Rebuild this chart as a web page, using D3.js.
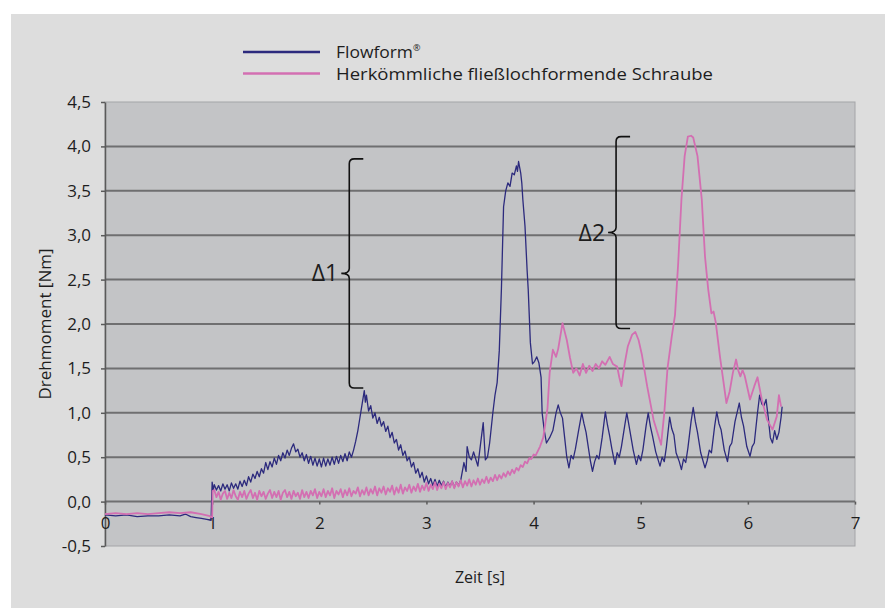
<!DOCTYPE html>
<html>
<head>
<meta charset="utf-8">
<script src="https://cdn.jsdelivr.net/npm/d3@7"></script>
<style>
  html, body { margin: 0; padding: 0; background: #fff; }
  svg text { font-family: "Open Sans", "Noto Sans", sans-serif; fill: #1d1d1d; }
</style>
</head>
<body>
<div class="canvas"></div>
<script>
/////////////////////////////////////////////////
// Data
/////////////////////////////////////////////////

// [time s, torque Nm]
const flowform = [
  [0.00, -0.15], [0.10, -0.16], [0.20, -0.15], [0.30, -0.17], [0.40, -0.16], [0.50, -0.16],
  [0.60, -0.15], [0.70, -0.16], [0.75, -0.14], [0.80, -0.17], [0.85, -0.18], [0.90, -0.19],
  [0.95, -0.20], [0.99, -0.21], [1.00, 0.22], [1.01, 0.13],
  [1.02, 0.19], [1.04, 0.13], [1.06, 0.18], [1.08, 0.12], [1.10, 0.20], [1.12, 0.14], [1.14, 0.19], [1.16, 0.12], [1.18, 0.21], [1.20, 0.15],
  [1.22, 0.20], [1.24, 0.14], [1.26, 0.23], [1.28, 0.17], [1.30, 0.24], [1.32, 0.18], [1.34, 0.28], [1.36, 0.22], [1.38, 0.31], [1.40, 0.26],
  [1.42, 0.34], [1.44, 0.28], [1.46, 0.37], [1.48, 0.32], [1.50, 0.44], [1.52, 0.36], [1.54, 0.45], [1.56, 0.39], [1.58, 0.49], [1.60, 0.42],
  [1.62, 0.52], [1.64, 0.46], [1.66, 0.55], [1.68, 0.49], [1.70, 0.58], [1.72, 0.52], [1.74, 0.60], [1.76, 0.65], [1.78, 0.56], [1.80, 0.59],
  [1.82, 0.50], [1.84, 0.55], [1.86, 0.46], [1.88, 0.53], [1.90, 0.43], [1.92, 0.51], [1.94, 0.41], [1.96, 0.49], [1.98, 0.40], [2.00, 0.48],
  [2.02, 0.39], [2.04, 0.49], [2.06, 0.40], [2.08, 0.48], [2.10, 0.41], [2.12, 0.50], [2.14, 0.42], [2.16, 0.51], [2.18, 0.43], [2.20, 0.52],
  [2.22, 0.45], [2.24, 0.54], [2.26, 0.46], [2.28, 0.56], [2.30, 0.50], [2.32, 0.58],
  [2.34, 0.68], [2.36, 0.80], [2.38, 0.95], [2.40, 1.10], [2.42, 1.25], [2.43, 1.12],
  [2.44, 1.20], [2.46, 1.02], [2.48, 1.08], [2.50, 0.94], [2.52, 1.00], [2.54, 0.88], [2.56, 0.95], [2.58, 0.85], [2.60, 0.90], [2.62, 0.79],
  [2.64, 0.85], [2.66, 0.72], [2.68, 0.78], [2.70, 0.66], [2.72, 0.70], [2.74, 0.58], [2.76, 0.64], [2.78, 0.52], [2.80, 0.57], [2.82, 0.46],
  [2.84, 0.50], [2.86, 0.39], [2.88, 0.44], [2.90, 0.32], [2.92, 0.37], [2.94, 0.27], [2.96, 0.33], [2.98, 0.22], [3.00, 0.29], [3.02, 0.20],
  [3.04, 0.26], [3.06, 0.18], [3.08, 0.25], [3.10, 0.17], [3.12, 0.24], [3.14, 0.18], [3.16, 0.23], [3.18, 0.16], [3.20, 0.22], [3.22, 0.17],
  [3.24, 0.23], [3.26, 0.16], [3.28, 0.22], [3.30, 0.18], [3.32, 0.24],
  [3.35, 0.44], [3.37, 0.34], [3.38, 0.62], [3.40, 0.50], [3.42, 0.47], [3.44, 0.56],
  [3.46, 0.48], [3.48, 0.40], [3.50, 0.60], [3.53, 0.89], [3.55, 0.47], [3.57, 0.50],
  [3.59, 0.66], [3.62, 1.00], [3.64, 1.20], [3.66, 1.34], [3.68, 1.70], [3.70, 2.40],
  [3.72, 3.32], [3.74, 3.50], [3.76, 3.59], [3.78, 3.55], [3.80, 3.70], [3.82, 3.68],
  [3.84, 3.78], [3.85, 3.72], [3.86, 3.83], [3.88, 3.70], [3.89, 3.59], [3.90, 3.40],
  [3.92, 3.10], [3.94, 2.60], [3.95, 2.39], [3.97, 1.79], [3.99, 1.55], [4.01, 1.58],
  [4.03, 1.63], [4.05, 1.56], [4.07, 1.40], [4.08, 1.00], [4.10, 0.80], [4.12, 0.66],
  [4.15, 0.72], [4.18, 0.80], [4.21, 1.00], [4.23, 1.09], [4.25, 1.00], [4.27, 0.94],
  [4.29, 0.72], [4.31, 0.50], [4.33, 0.38], [4.35, 0.52], [4.37, 0.48], [4.39, 0.59],
  [4.42, 0.80], [4.45, 1.00], [4.47, 0.88], [4.49, 0.78], [4.51, 0.62], [4.53, 0.46],
  [4.55, 0.34], [4.57, 0.45], [4.59, 0.52], [4.61, 0.48], [4.64, 0.72], [4.67, 1.01],
  [4.69, 0.86], [4.71, 0.74], [4.73, 0.60], [4.76, 0.42], [4.78, 0.55], [4.80, 0.50],
  [4.82, 0.62], [4.85, 0.85], [4.87, 1.00], [4.89, 0.86], [4.91, 0.72], [4.93, 0.58],
  [4.96, 0.42], [4.98, 0.52], [5.00, 0.46], [5.02, 0.58], [5.05, 0.85], [5.07, 1.00],
  [5.09, 0.85], [5.11, 0.74], [5.14, 0.56], [5.18, 0.40], [5.20, 0.50], [5.22, 0.45],
  [5.24, 0.62], [5.27, 0.95], [5.29, 0.82], [5.31, 0.75], [5.33, 0.55], [5.36, 0.45],
  [5.38, 0.36], [5.40, 0.48], [5.42, 0.44], [5.44, 0.60], [5.47, 0.90], [5.49, 1.06],
  [5.51, 0.90], [5.53, 0.78], [5.56, 0.55], [5.60, 0.38], [5.62, 0.46], [5.64, 0.58],
  [5.66, 0.55], [5.69, 0.85], [5.71, 1.01], [5.73, 0.88], [5.75, 0.81], [5.78, 0.58],
  [5.81, 0.45], [5.83, 0.62], [5.85, 0.66], [5.88, 0.90], [5.92, 1.11], [5.94, 0.95],
  [5.96, 0.85], [5.99, 0.62], [6.02, 0.51], [6.04, 0.62], [6.06, 0.66], [6.09, 1.00],
  [6.11, 1.20], [6.13, 1.10], [6.15, 1.08], [6.17, 1.15], [6.19, 0.95], [6.21, 0.72],
  [6.23, 0.66], [6.25, 0.80], [6.27, 0.70], [6.29, 0.78], [6.31, 0.95], [6.32, 1.07],
];

const conventional = [
  [0.00, -0.14], [0.10, -0.13], [0.20, -0.14], [0.30, -0.13], [0.40, -0.14], [0.50, -0.13],
  [0.60, -0.12], [0.70, -0.13], [0.80, -0.12], [0.90, -0.14], [0.97, -0.16], [1.00, -0.18],
  [1.005, 0.12],
  [1.02, 0.13], [1.04, 0.05], [1.06, 0.11], [1.08, 0.02], [1.10, 0.09], [1.12, 0.12], [1.14, 0.03], [1.16, 0.10], [1.18, 0.04], [1.20, 0.13],
  [1.22, 0.06], [1.24, 0.02], [1.26, 0.11], [1.28, 0.05], [1.30, 0.12], [1.32, 0.03], [1.34, 0.09], [1.36, 0.13], [1.38, 0.04], [1.40, 0.10],
  [1.42, 0.02], [1.44, 0.12], [1.46, 0.06], [1.48, 0.11], [1.50, 0.03], [1.52, 0.09], [1.54, 0.13], [1.56, 0.04], [1.58, 0.11], [1.60, 0.05],
  [1.62, 0.12], [1.64, 0.02], [1.66, 0.10], [1.68, 0.13], [1.70, 0.05], [1.72, 0.11], [1.74, 0.03], [1.76, 0.12], [1.78, 0.06], [1.80, 0.10],
  [1.82, 0.03], [1.84, 0.13], [1.86, 0.05], [1.88, 0.11], [1.90, 0.04], [1.92, 0.12], [1.94, 0.07], [1.96, 0.14], [1.98, 0.04], [2.00, 0.11],
  [2.02, 0.06], [2.04, 0.14], [2.06, 0.05], [2.08, 0.12], [2.10, 0.07], [2.12, 0.15], [2.14, 0.04], [2.16, 0.12], [2.18, 0.08], [2.20, 0.14],
  [2.22, 0.05], [2.24, 0.13], [2.26, 0.07], [2.28, 0.15], [2.30, 0.06], [2.32, 0.12], [2.34, 0.09], [2.36, 0.16], [2.38, 0.06], [2.40, 0.13],
  [2.42, 0.08], [2.44, 0.16], [2.46, 0.07], [2.48, 0.14], [2.50, 0.09], [2.52, 0.17], [2.54, 0.07], [2.56, 0.15], [2.58, 0.10], [2.60, 0.17],
  [2.62, 0.08], [2.64, 0.15], [2.66, 0.11], [2.68, 0.18], [2.70, 0.08], [2.72, 0.16], [2.74, 0.10], [2.76, 0.19], [2.78, 0.09], [2.80, 0.16],
  [2.82, 0.12], [2.84, 0.19], [2.86, 0.10], [2.88, 0.17], [2.90, 0.12], [2.92, 0.20], [2.94, 0.11], [2.96, 0.18], [2.98, 0.13], [3.00, 0.21],
  [3.02, 0.12], [3.04, 0.19], [3.06, 0.14], [3.08, 0.22], [3.10, 0.13], [3.12, 0.20], [3.14, 0.15], [3.16, 0.22], [3.18, 0.14], [3.20, 0.21],
  [3.22, 0.16], [3.24, 0.23], [3.26, 0.15], [3.28, 0.22], [3.30, 0.17], [3.32, 0.24], [3.34, 0.16], [3.36, 0.23], [3.38, 0.18], [3.40, 0.25],
  [3.42, 0.17], [3.44, 0.24], [3.46, 0.19], [3.48, 0.26], [3.50, 0.19], [3.52, 0.25], [3.54, 0.21], [3.56, 0.28], [3.58, 0.21], [3.60, 0.27],
  [3.62, 0.23], [3.64, 0.30], [3.66, 0.24], [3.68, 0.30], [3.70, 0.26], [3.72, 0.32], [3.74, 0.28], [3.76, 0.34], [3.78, 0.30], [3.80, 0.36],
  [3.82, 0.32], [3.84, 0.38], [3.86, 0.35], [3.88, 0.41], [3.90, 0.39], [3.92, 0.45], [3.94, 0.43], [3.96, 0.49], [3.98, 0.48], [4.00, 0.53],
  [4.02, 0.52], [4.06, 0.62], [4.09, 0.72],
  [4.11, 0.88], [4.13, 1.05], [4.15, 1.45], [4.18, 1.71], [4.21, 1.63], [4.23, 1.72],
  [4.27, 2.01], [4.31, 1.82], [4.34, 1.62], [4.37, 1.45], [4.40, 1.50], [4.43, 1.42],
  [4.46, 1.55], [4.49, 1.45], [4.52, 1.53], [4.55, 1.47], [4.58, 1.55], [4.61, 1.50],
  [4.64, 1.58], [4.67, 1.54], [4.71, 1.63], [4.74, 1.55], [4.78, 1.52], [4.80, 1.40],
  [4.82, 1.30], [4.85, 1.55], [4.88, 1.75], [4.92, 1.88], [4.95, 1.91], [4.98, 1.82],
  [5.01, 1.66], [5.06, 1.30], [5.12, 0.92], [5.19, 0.64], [5.22, 1.00], [5.25, 1.50],
  [5.29, 1.86], [5.32, 2.10], [5.35, 2.69], [5.38, 3.40], [5.41, 3.89], [5.44, 4.11],
  [5.47, 4.12], [5.49, 4.10], [5.53, 3.89], [5.57, 3.40], [5.60, 2.76], [5.63, 2.39],
  [5.66, 2.12], [5.68, 2.14], [5.70, 2.02], [5.74, 1.63], [5.80, 1.11], [5.83, 1.24],
  [5.86, 1.45], [5.89, 1.60], [5.91, 1.48], [5.93, 1.41], [5.95, 1.48], [5.97, 1.42],
  [6.02, 1.15], [6.06, 1.30], [6.09, 1.40], [6.13, 1.15], [6.18, 0.92], [6.23, 0.81],
  [6.27, 0.96], [6.29, 1.20], [6.31, 1.07],
];

const seriesNames = ["Flowform", "Herkömmliche fließlochformende Schraube"];
const xTicks = [0, 1, 2, 3, 4, 5, 6, 7];
const yTicks = [-0.5, 0, 0.5, 1, 1.5, 2, 2.5, 3, 3.5, 4, 4.5];
const gridValues = [0, 0.5, 1, 1.5, 2, 2.5, 3, 3.5, 4];

// Braces (time, torque range) drawn over the chart
const braces = [
  { label: "Δ1", t: 2.28, top: 3.86, bottom: 1.28 },
  { label: "Δ2", t: 4.77, top: 4.11, bottom: 1.95 },
];

/////////////////////////////////////////////////
// Setup
/////////////////////////////////////////////////

const width = 890;
const height = 613;
const colors = ["#2c2a7d", "#d36fb2"];

const plot = { left: 105, right: 855, top: 102, bottom: 546 };

const x = d3.scaleLinear().domain([0, 7]).range([plot.left, plot.right]);
const y = d3.scaleLinear().domain([-0.5, 4.5]).range([plot.bottom, plot.top]);

const svg = d3
  .select(".canvas")
  .append("svg")
  .attr("width", width)
  .attr("height", height);

// Outer panel
svg
  .append("rect")
  .attr("x", 11)
  .attr("y", 14)
  .attr("width", 874)
  .attr("height", 594)
  .attr("fill", "#dddddd");

// Plot area
svg
  .append("rect")
  .attr("x", plot.left)
  .attr("y", plot.top)
  .attr("width", plot.right - plot.left)
  .attr("height", plot.bottom - plot.top)
  .attr("fill", "#c3c4c6")
  .attr("stroke", "#a4a5a8")
  .attr("stroke-width", 1);

// Gridlines
svg
  .append("g")
  .selectAll("line")
  .data(gridValues)
  .enter()
  .append("line")
  .attr("x1", plot.left)
  .attr("x2", plot.right)
  .attr("y1", (d) => y(d))
  .attr("y2", (d) => y(d))
  .attr("stroke", "#6f6f70")
  .attr("stroke-width", 2);

/////////////////////////////////////////////////
// Axes
/////////////////////////////////////////////////

const fmt = (d) => d.toFixed(1).replace(".", ",");

const yAxis = d3
  .axisLeft(y)
  .tickValues(yTicks)
  .tickSize(4)
  .tickSizeOuter(0)
  .tickPadding(10)
  .tickFormat(fmt);

const yAxisGroup = svg
  .append("g")
  .attr("transform", `translate(${plot.left}, 0)`)
  .call(yAxis);

yAxisGroup.select(".domain").attr("stroke", "#5a5a5a").attr("stroke-width", 1.5);
yAxisGroup.selectAll(".tick line").attr("stroke", "#5a5a5a").attr("stroke-width", 1.5);
yAxisGroup.selectAll(".tick text").attr("font-size", 17).attr("fill", "#1d1d1d");

const xAxis = d3
  .axisBottom(x)
  .tickValues(xTicks)
  .tickSize(3)
  .tickSizeOuter(0)
  .tickPadding(12)
  .tickFormat(d3.format("d"));

const xAxisGroup = svg
  .append("g")
  .attr("transform", `translate(0, ${y(0)})`)
  .call(xAxis);

xAxisGroup.select(".domain").remove();
xAxisGroup.selectAll(".tick line").attr("stroke", "#5a5a5a").attr("stroke-width", 1.5);
xAxisGroup.selectAll(".tick text").attr("font-size", 17).attr("fill", "#1d1d1d");

// Axis titles
svg
  .append("text")
  .attr("x", (plot.left + plot.right) / 2)
  .attr("y", 583)
  .attr("text-anchor", "middle")
  .attr("font-size", 16)
  .text("Zeit [s]");

svg
  .append("text")
  .attr("transform", "translate(51, 324) rotate(-90)")
  .attr("text-anchor", "middle")
  .attr("font-size", 17)
  .text("Drehmoment [Nm]");

/////////////////////////////////////////////////
// Lines
/////////////////////////////////////////////////

const line = d3
  .line()
  .x((d) => x(d[0]))
  .y((d) => y(d[1]));

svg
  .append("path")
  .datum(flowform)
  .attr("d", line)
  .attr("fill", "none")
  .attr("stroke", colors[0])
  .attr("stroke-width", 1.3)
  .attr("stroke-linejoin", "round");

svg
  .append("path")
  .datum(conventional)
  .attr("d", line)
  .attr("fill", "none")
  .attr("stroke", colors[1])
  .attr("stroke-width", 1.8)
  .attr("stroke-linejoin", "round");

/////////////////////////////////////////////////
// Braces
/////////////////////////////////////////////////

function bracePath(b) {
  const bx = x(b.t);
  const top = y(b.top);
  const bot = y(b.bottom);
  const mid = (top + bot) / 2;
  const r = 5;
  return [
    `M${bx + 14},${top}`,
    `L${bx + r},${top}`,
    `Q${bx},${top} ${bx},${top + r}`,
    `L${bx},${mid - r}`,
    `Q${bx},${mid} ${bx - 8},${mid}`,
    `Q${bx},${mid} ${bx},${mid + r}`,
    `L${bx},${bot - r}`,
    `Q${bx},${bot} ${bx + r},${bot}`,
    `L${bx + 14},${bot}`,
  ].join(" ");
}

const braceGroups = svg.selectAll(".brace").data(braces).enter().append("g");

braceGroups
  .append("path")
  .attr("d", bracePath)
  .attr("fill", "none")
  .attr("stroke", "#111")
  .attr("stroke-width", 1.6);

braceGroups
  .append("text")
  .attr("x", (d) => x(d.t) - 11)
  .attr("y", (d) => (y(d.top) + y(d.bottom)) / 2 + 8)
  .attr("text-anchor", "end")
  .attr("font-size", 23)
  .text((d) => d.label);

/////////////////////////////////////////////////
// Legend
/////////////////////////////////////////////////

// Widths the two legend texts take in the reference
const legendTextWidths = [77, 377];

const legend = svg.append("g").attr("transform", "translate(243, 52)");

const legendItems = legend
  .selectAll("g")
  .data(seriesNames)
  .enter()
  .append("g")
  .attr("transform", (d, i) => `translate(0, ${i * 21.5})`);

legendItems
  .append("line")
  .attr("x1", 0)
  .attr("x2", 77)
  .attr("stroke", (d, i) => colors[i])
  .attr("stroke-width", 2.5);

const legendText = legendItems
  .append("text")
  .attr("x", 93)
  .attr("y", 6)
  .attr("font-size", 15.5);

legendText
  .append("tspan")
  .attr("textLength", (d, i) => legendTextWidths[i])
  .attr("lengthAdjust", "spacingAndGlyphs")
  .text((d) => d);

legendText
  .filter((d, i) => i === 0)
  .append("tspan")
  .attr("font-size", 9)
  .attr("dy", -7)
  .text("®");
</script>
</body>
</html>
